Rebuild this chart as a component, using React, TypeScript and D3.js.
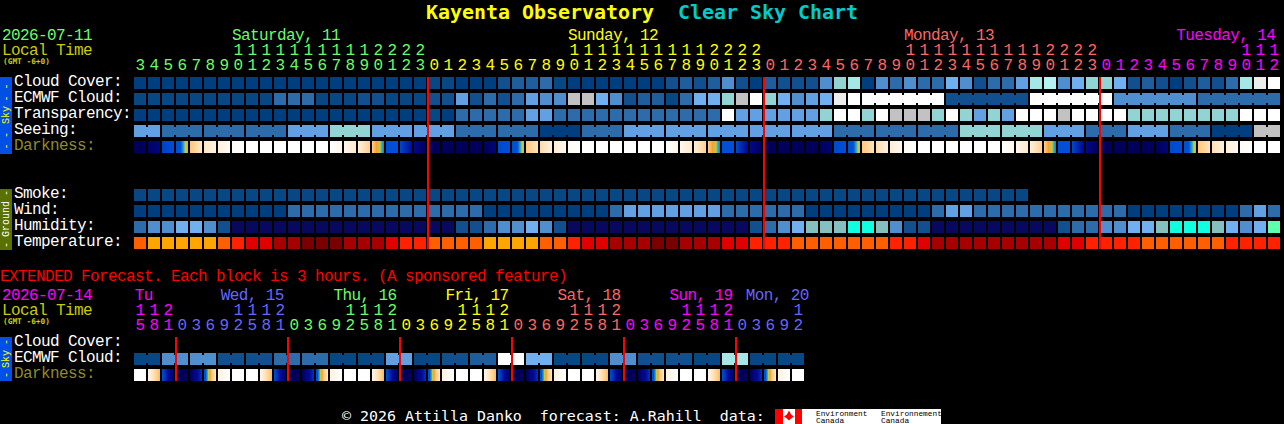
import React, { useEffect, useRef } from "react";
import * as d3 from "d3";

const GREEN = "#66ff66";
const YELLOW = "#ffff00";
const SALMON = "#ff6666";
const MAGENTA = "#ff00ff";
const PERI = "#6666ff";
const MONO = "'Liberation Mono', monospace";
const DEJAVU = "'DejaVu Sans Mono', monospace";

// index into blockPalette for every block of the sky and ground rows
const blockPalette = [
  "#003f7f", "#074784", "#124f8e", "#1f5e9d", "#2d6cab", "#4f8fd0",
  "#61a0e2", "#70b0f0", "#92d3d3", "#a5e6e6", "#b5f3f3", "#c2c2c2",
  "#ededed", "#ffffff", "#08085f", "#85c0c0", "#0fffe0", "#5fffb0",
];
const tempPalette = ["#7a0000", "#a60000", "#e00000", "#ff2200", "#ff5f00", "#ffa500"];

const hours = [
  3, 4, 5, 6, 7, 8, 9, 10, 11, 12, 13, 14, 15, 16, 17, 18, 19, 20, 21, 22, 23,
  0, 1, 2, 3, 4, 5, 6, 7, 8, 9, 10, 11, 12, 13, 14, 15, 16, 17, 18, 19, 20, 21, 22, 23,
  0, 1, 2, 3, 4, 5, 6, 7, 8, 9, 10, 11, 12, 13, 14, 15, 16, 17, 18, 19, 20, 21, 22, 23,
  0, 1, 2, 3, 4, 5, 6, 7, 8, 9, 10, 11, 12,
];
const cloudCover = [
  0, 0, 0, 0, 0, 0, 0, 0, 0, 0, 0, 0, 0, 0, 0, 0, 0, 0, 0, 0, 0,
  1, 1, 0, 0, 0, 2, 3, 3, 4, 1, 0, 0, 0, 0, 0, 0, 0, 2, 3, 2, 3, 5, 2, 0,
  3, 2, 2, 2, 5, 8, 9, 0, 5, 4, 5, 4, 4, 7, 5, 2, 4, 4, 6, 9, 10, 5, 7, 8,
  8, 7, 2, 3, 2, 0, 2, 3, 2, 4, 9, 12, 13,
];
const ecmwfCloud = [
  1, 1, 1, 1, 1, 1, 1, 1, 1, 1, 4, 4, 4, 1, 1, 1, 2, 2, 1, 1, 1,
  2, 2, 6, 2, 4, 2, 4, 6, 5, 5, 11, 11, 7, 5, 2, 3, 3, 1, 4, 7, 7, 8, 11, 13,
  8, 7, 5, 6, 7, 12, 13, 13, 13, 13, 13, 13, 13, 2, 2, 2, 2, 2, 2, 13, 13, 13,
  13, 13, 13, 5, 5, 5, 5, 5, 5, 4, 4, 4, 4, 4, 4,
];
const transparency = [
  0, 0, 0, 0, 0, 0, 0, 0, 0, 0, 0, 0, 0, 0, 0, 0, 0, 0, 0, 0, 0,
  1, 0, 4, 4, 4, 4, 4, 6, 6, 4, 4, 4, 4, 4, 4, 4, 4, 4, 4, 4, 4, 13, 6, 6,
  6, 6, 6, 6, 8, 13, 13, 8, 13, 11, 11, 11, 8, 13, 8, 6, 8, 6, 13, 13, 13, 11, 13, 13,
  13, 13, 8, 8, 8, 8, 8, 8, 8, 8, 13, 13, 13,
];
const seeing = [
  6, 6, 4, 4, 4, 4, 4, 4, 4, 4, 4, 6, 6, 6, 8, 8, 8, 6, 6, 6, 6,
  6, 6, 4, 4, 4, 4, 4, 4, 0, 0, 0, 4, 4, 4, 6, 6, 6, 6, 6, 6, 6, 6, 6, 6,
  6, 6, 6, 6, 6, 4, 4, 4, 4, 4, 4, 4, 4, 4, 8, 8, 8, 8, 8, 8, 6, 6, 6, 4,
  4, 4, 6, 6, 6, 4, 4, 4, 0, 0, 0, 11, 11,
];
// darkness per block, left edge and right edge (0 night .. 2 twilight .. 6 daylight)
const darkStart = [
  0, 0.2, 1.8, 2, 4, 4.9, 5.3, 5.8, 6, 6, 6, 6, 6, 6, 6, 5.6, 5.2, 4.1, 2, 1.9, 0.8,
  0, 0, 0, 0, 0, 1.9, 1.9, 4, 4.6, 5.2, 5.8, 6, 6, 6, 6, 6, 6, 6, 5.6, 5.2, 4.1, 2, 1.9, 0.8,
  0, 0, 0, 0, 0, 1.9, 1.9, 4, 4.6, 5.2, 5.8, 6, 6, 6, 6, 6, 6, 6, 5.6, 5.2, 4.1, 2, 1.9, 0.8,
  0, 0, 0, 0, 0, 1.9, 2, 4, 4.7, 5.3, 5.8, 6, 6,
];
const darkEnd = [
  0, 0.6, 2, 3.6, 5, 5.4, 5.8, 6, 6, 6, 6, 6, 6, 6, 5.6, 5, 4.3, 2.8, 2, 1, 0,
  0, 0, 0, 0, 0.5, 2, 3.5, 4.8, 5.3, 5.7, 6, 6, 6, 6, 6, 6, 6, 5.6, 5, 4.3, 2.8, 2, 0.9, 0,
  0, 0, 0, 0, 0.4, 2, 3.5, 4.8, 5.3, 5.7, 6, 6, 6, 6, 6, 6, 6, 5.7, 5, 4.3, 2.8, 2, 0.9, 0,
  0, 0, 0, 0, 0.5, 2, 3.5, 4.8, 5.3, 5.7, 6, 6, 6,
];
const smoke = [
  1, 1, 1, 1, 1, 1, 1, 1, 1, 1, 1, 1, 1, 1, 1, 1, 1, 1, 1, 1, 1,
  1, 1, 1, 1, 1, 1, 1, 1, 1, 1, 1, 1, 1, 1, 1, 1, 1, 1, 1, 1, 1, 1, 1, 1,
  1, 1, 1, 1, 1, 1, 1, 1, 1, 1, 1, 1, 1, 1, 1, 1, 1, 1, 1,
];
const wind = [
  0, 0, 0, 0, 0, 0, 0, 0, 0, 0, 0, 4, 4, 4, 4, 4, 4, 4, 4, 4, 4,
  4, 4, 4, 4, 0, 0, 0, 0, 0, 0, 0, 0, 0, 4, 6, 6, 6, 6, 6, 6, 6, 4, 4, 4,
  4, 4, 4, 0, 0, 0, 0, 0, 0, 0, 0, 0, 4, 6, 6, 4, 4, 4, 4, 4, 4, 4, 4, 4,
  4, 4, 0, 0, 0, 0, 0, 0, 0, 0, 4, 6, 4,
];
const humidity = [
  4, 5, 5, 7, 7, 5, 2, 14, 14, 14, 14, 14, 14, 14, 14, 14, 14, 14, 14, 14, 14,
  14, 14, 2, 2, 4, 5, 5, 7, 5, 2, 14, 14, 14, 14, 14, 14, 14, 14, 14, 14, 14, 14, 14, 2,
  4, 5, 7, 15, 15, 15, 16, 16, 15, 5, 2, 2, 14, 14, 14, 14, 14, 14, 14, 14, 14, 2, 4, 4,
  5, 5, 7, 7, 15, 16, 16, 16, 15, 7, 5, 7, 17,
];
const temperature = [
  4, 5, 5, 5, 5, 5, 4, 3, 2, 2, 1, 1, 0, 0, 0, 1, 1, 1, 2, 3, 3,
  4, 4, 4, 4, 5, 5, 5, 5, 4, 4, 3, 2, 2, 1, 1, 1, 0, 0, 1, 1, 1, 2, 2, 3,
  3, 3, 4, 4, 4, 4, 4, 4, 4, 3, 3, 2, 1, 1, 1, 1, 1, 1, 1, 1, 1, 2, 2, 3,
  3, 3, 3, 4, 4, 4, 4, 4, 4, 3, 3, 3, 3,
];

const extHours = [
  15, 18, 21, 0, 3, 6, 9, 12, 15, 18, 21, 0, 3, 6, 9, 12, 15, 18, 21, 0, 3, 6, 9, 12,
  15, 18, 21, 0, 3, 6, 9, 12, 15, 18, 21, 0, 3, 6, 9, 12, 15, 18, 21, 0, 3, 6, 9, 12,
];
// one value per 6 hour bar (two blocks)
const extEcmwf = [1, 5, 5, 2, 2, 4, 4, 1, 1, 6, 1, 2, 3, 13, 7, 1, 1, 5, 2, 2, 1, 9, 1, 1];
const extDarkStart = [
  6, 5.6, 2, 0, 0, 2.2, 5.4, 6, 6, 5.6, 2, 0, 0, 2.2, 5.4, 6, 6, 5.6, 2, 0, 0, 2.2, 5.4, 6,
  6, 5.6, 2, 0, 0, 2.2, 5.4, 6, 6, 5.6, 2, 0, 0, 2.2, 5.4, 6, 6, 5.6, 2, 0, 0, 2.2, 5.4, 6,
];
const extDarkEnd = [
  6, 3.8, 0.2, 0, 1.6, 5, 6, 6, 6, 3.8, 0.2, 0, 1.6, 5, 6, 6, 6, 3.8, 0.2, 0, 1.6, 5, 6, 6,
  6, 3.8, 0.2, 0, 1.6, 5, 6, 6, 6, 3.8, 0.2, 0, 1.6, 5, 6, 6, 6, 3.8, 0.2, 0, 1.6, 5, 6, 6,
];

const dayLabels = ["Saturday, 11", "Sunday, 12", "Monday, 13", "Tuesday, 14"];
const dayColumns = [7, 31, 55, 74.45];
const dayColors = [GREEN, YELLOW, SALMON, MAGENTA];
const dayBreaks = [21, 45, 69];
const extDayLabels = ["Tu", "Wed, 15", "Thu, 16", "Fri, 17", "Sat, 18", "Sun, 19", "Mon, 20"];
const extDayColumns = [0.05, 6.2, 14.25, 22.25, 30.25, 38.25, 43.7];
const extDayColors = [MAGENTA, PERI, GREEN, YELLOW, SALMON, MAGENTA, PERI];
const extDayBreaks = [3, 11, 19, 27, 35, 43];

const skyLabels = ["Cloud Cover:", "ECMWF Cloud:", "Transparency:", "Seeing:", "Darkness:"];
const groundLabels = ["Smoke:", "Wind:", "Humidity:", "Temperature:"];
const extLabels = ["Cloud Cover:", "ECMWF Cloud:", "Darkness:"];

const STEP = 14;
const BLOCK = 12;
const ROW = 16;

function App() {
  const svgRef = useRef<SVGSVGElement | null>(null);

  useEffect(() => {
    document.body.style.margin = "0";
    document.body.style.background = "#000";
    const svg = d3.select(svgRef.current);
    svg.selectAll("*").remove();

    const xCol = d3.scaleLinear().domain([0, 82]).range([134, 134 + 82 * STEP]);
    const rowY = d3.scaleLinear().domain([0, 1]).range([77, 77 + ROW]);
    const blockColor = d3.scaleOrdinal<number, string>().domain(d3.range(blockPalette.length)).range(blockPalette);
    const tempColor = d3.scaleOrdinal<number, string>().domain(d3.range(tempPalette.length)).range(tempPalette);
    const darkColor = d3
      .scaleLinear<string>()
      .domain([0, 1, 2, 2.6, 3, 3.25, 3.6, 4, 5, 6])
      .range(["#00005a", "#000a96", "#004fd4", "#004fd4", "#28a8c8", "#c8c840", "#f5a030", "#ffc67a", "#ffe9cc", "#ffffff"]);

    // thin wide letters like the bitmap font of the chart: 9px advance
    const text = (s: string, x: number, y: number, fill: string) =>
      svg
        .append("text")
        .attr("x", x)
        .attr("y", y)
        .attr("fill", fill)
        .attr("font-family", MONO)
        .attr("font-size", 16)
        .attr("letter-spacing", -0.6)
        .style("white-space", "pre")
        .text(s);

    const boldText = (s: string, x: number, y: number, fill: string, size: number) =>
      svg
        .append("text")
        .attr("x", x)
        .attr("y", y)
        .attr("fill", fill)
        .attr("font-family", DEJAVU)
        .attr("font-size", size)
        .attr("font-weight", "bold")
        .style("white-space", "pre")
        .text(s);

    const drawRow = (values: number[], y: number, color: (v: number) => string, group?: (i: number) => number) => {
      const g = svg.append("g").attr("shape-rendering", "crispEdges");
      g.selectAll("rect.block")
        .data(values)
        .enter()
        .append("rect")
        .attr("class", "block")
        .attr("x", (_, i) => xCol(i))
        .attr("y", y)
        .attr("width", BLOCK)
        .attr("height", BLOCK)
        .attr("fill", (d) => color(d));
      if (!group) return;
      // bars that span several blocks keep a waist across the gap
      const joins = d3.range(values.length - 1).filter((i) => group(i) === group(i + 1));
      g.selectAll("rect.join")
        .data(joins)
        .enter()
        .append("rect")
        .attr("class", "join")
        .attr("x", (i) => xCol(i) + BLOCK)
        .attr("y", y + 2)
        .attr("width", STEP - BLOCK)
        .attr("height", BLOCK - 4)
        .attr("fill", (i) => color(values[i]));
    };

    const drawDarkness = (starts: number[], ends: number[], y: number) => {
      const g = svg.append("g").attr("shape-rendering", "crispEdges");
      starts.forEach((start, i) => {
        const mix = d3.interpolateNumber(start, ends[i]);
        g.selectAll(null)
          .data(d3.range(BLOCK))
          .enter()
          .append("rect")
          .attr("x", (p) => xCol(i) + p)
          .attr("y", y)
          .attr("width", 1)
          .attr("height", BLOCK)
          .attr("fill", (p) => darkColor(mix((p + 0.5) / BLOCK)));
      });
    };

    const drawHours = (list: number[], tensY: number, onesY: number, color: (i: number) => string) => {
      list.forEach((h, i) => {
        const cx = xCol(i) + BLOCK / 2;
        text(String(h % 10), cx, onesY, color(i)).attr("text-anchor", "middle");
        if (h >= 10) text(String(Math.floor(h / 10)), cx, tensY, color(i)).attr("text-anchor", "middle");
      });
    };

    const drawMidnights = (list: number[], top: number, height: number) => {
      svg.append("g")
        .attr("shape-rendering", "crispEdges")
        .selectAll("rect")
        .data(list.map((h, i) => (h === 0 ? i : -1)).filter((i) => i >= 0))
        .enter()
        .append("rect")
        .attr("x", (i) => xCol(i) - 1)
        .attr("y", top)
        .attr("width", 2)
        .attr("height", height)
        .attr("fill", "#ff0000");
    };

    const sideBar = (top: number, bottom: number, fill: string, ink: string, name: string, nameY: number, dashes: number[]) => {
      svg.append("rect").attr("x", 0).attr("y", top).attr("width", 12).attr("height", bottom - top).attr("fill", fill).attr("shape-rendering", "crispEdges");
      const rotated = (s: string, y: number) =>
        text(s, 0, 0, ink)
          .attr("font-size", 10)
          .attr("letter-spacing", 0)
          .attr("text-anchor", "middle")
          .attr("dominant-baseline", "central")
          .attr("x", null)
          .attr("y", null)
          .attr("transform", `translate(6,${y}) rotate(-90)`);
      rotated(name, nameY);
      dashes.forEach((y) => rotated("-", y));
    };

    // title
    boldText("Kayenta Observatory", 426, 19, YELLOW, 19.93);
    boldText("Clear Sky Chart", 678, 19, "#00cccc", 19.93);

    // header of the hourly part
    const mainColor = d3.scaleThreshold<number, string>().domain(dayBreaks).range(dayColors);
    text("2026-07-11", 2, 40, GREEN);
    text("Local Time", 2, 55, "#cccc00");
    boldText("(GMT -6+0)", 3, 64, "#cccc00", 7.8);
    dayLabels.forEach((d, i) => text(d, xCol(dayColumns[i]), 40, dayColors[i]));
    drawHours(hours, 55, 70, (i) => mainColor(i));

    // sky rows
    sideBar(77, 154, "#0050e6", YELLOW, "Sky", 115, [86.5, 98.5, 135, 146.5]);
    skyLabels.forEach((d, i) => text(d, 14, rowY(i) + 9, i === 4 ? "#8c8c26" : "#fff"));
    const palette = (v: number) => blockColor(v);
    drawRow(cloudCover, rowY(0), palette);
    drawRow(ecmwfCloud, rowY(1), palette, (i) => (i < 52 ? -i : Math.floor((i - 52) / 6)));
    drawRow(transparency, rowY(2), palette);
    drawRow(seeing, rowY(3), palette, (i) => Math.floor((i + 1) / 3));
    drawDarkness(darkStart, darkEnd, rowY(4));

    // ground rows
    sideBar(189, 250, "#5a7000", "#fff", "Ground", 219, [193, 245]);
    groundLabels.forEach((d, i) => text(d, 14, rowY(7) + i * ROW + 9, "#fff"));
    drawRow(smoke, rowY(7), palette);
    drawRow(wind, rowY(8), palette);
    drawRow(humidity, rowY(9), palette);
    drawRow(temperature, rowY(10), (v) => tempColor(v));

    drawMidnights(hours, rowY(0), 172);

    // extended forecast
    const extColor = d3.scaleThreshold<number, string>().domain(extDayBreaks).range(extDayColors);
    text("EXTENDED Forecast. Each block is 3 hours. (A sponsored feature)", 0, 281, "#ff0000");
    text("2026-07-14", 2, 300, MAGENTA);
    text("Local Time", 2, 315, "#cccc00");
    boldText("(GMT -6+0)", 3, 324, "#cccc00", 7.8);
    extDayLabels.forEach((d, i) => text(d, xCol(extDayColumns[i]), 300, extDayColors[i]));
    drawHours(extHours, 315, 330, (i) => extColor(i));

    sideBar(337, 381, "#0050e6", YELLOW, "Sky", 359, [342, 375]);
    extLabels.forEach((d, i) => text(d, 14, 346 + i * ROW, i === 2 ? "#8c8c26" : "#fff"));
    drawRow(extEcmwf.flatMap((v) => [v, v]), 353, palette, (i) => Math.floor(i / 2));
    drawDarkness(extDarkStart, extDarkEnd, 369);
    drawMidnights(extHours, 337, 44);

    // footer with the data credit logo, DejaVu here because its descent stays on the page
    text("\u00a9 2026 Attilla Danko  forecast: A.Rahill  data:", 342, 421, "#fff")
      .attr("font-family", DEJAVU)
      .attr("font-size", 14.95)
      .attr("letter-spacing", 0);
    const logo = svg.append("g");
    logo.append("rect").attr("x", 775).attr("y", 409).attr("width", 166).attr("height", 15).attr("fill", "#fff");
    logo.append("rect").attr("x", 775).attr("y", 409).attr("width", 8).attr("height", 15).attr("fill", "#ff0000");
    logo.append("rect").attr("x", 795).attr("y", 409).attr("width", 7).attr("height", 15).attr("fill", "#ff0000");
    logo.append("path")
      .attr("d", d3.lineRadial<number>().angle((_, i) => (i * Math.PI) / 4).radius((r) => r).curve(d3.curveLinearClosed)([6, 3, 5, 3, 4, 3, 5, 3]))
      .attr("transform", "translate(789,416.5)")
      .attr("fill", "#ff0000");
    const credit = (s: string, x: number, y: number) =>
      logo.append("text").attr("x", x).attr("y", y).attr("font-family", MONO).attr("font-size", 7.8).attr("fill", "#000").text(s);
    credit("Environment", 816, 416);
    credit("Canada", 816, 423);
    credit("Environnement", 881, 416);
    credit("Canada", 881, 423);
  }, []);

  return <svg ref={svgRef} width={1284} height={424} style={{ display: "block", background: "#000" }} />;
}

export default App;
